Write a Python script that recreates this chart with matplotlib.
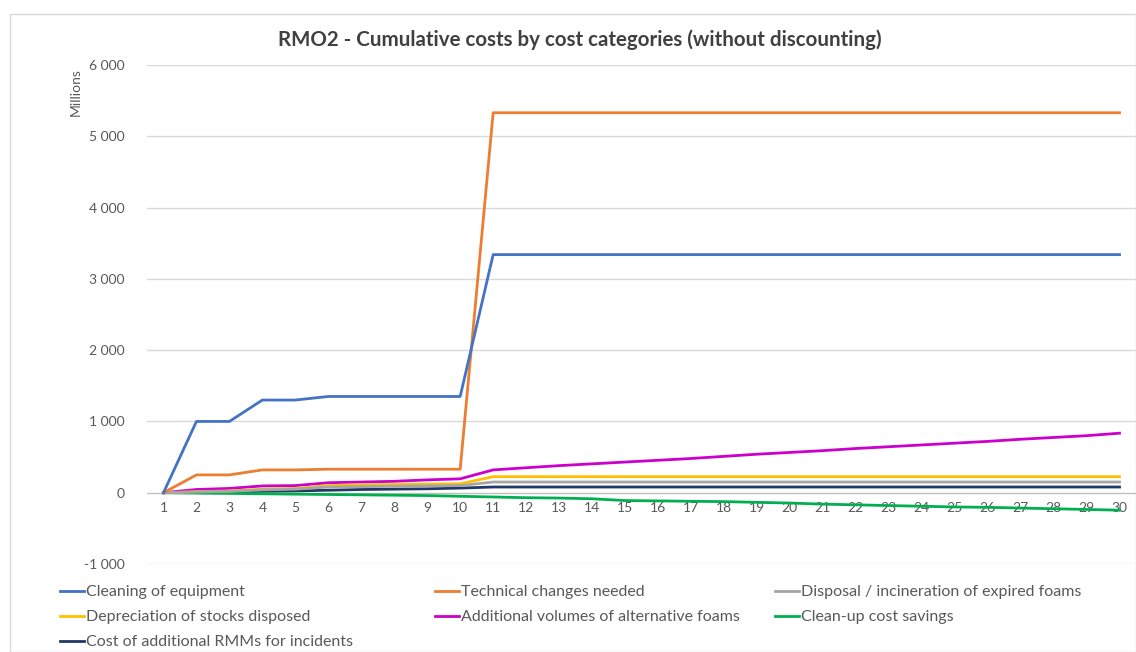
import matplotlib
matplotlib.use("Agg")
import matplotlib.pyplot as plt
from matplotlib.patches import Rectangle
from matplotlib.ticker import FuncFormatter

years = list(range(1, 31))

cleaning = [0, 1000, 1000, 1300, 1300, 1350, 1350, 1350, 1350, 1350] + [3340] * 20
technical = [0, 250, 250, 320, 320, 330, 330, 330, 330, 330] + [5330] * 20
disposal = [0, 10, 20, 40, 50, 80, 85, 90, 95, 100] + [150] * 20
depreciation = [0, 15, 25, 50, 60, 100, 110, 115, 120, 125] + [225] * 20
alt_foams = [0, 45, 60, 95, 100, 140, 150, 160, 180, 195,
             320, 350, 380, 405, 430, 455, 480, 510, 540, 565,
             590, 620, 645, 670, 695, 720, 750, 775, 800, 835]
cleanup = [0, -5, -10, -15, -20, -25, -30, -35, -40, -50,
           -60, -70, -75, -85, -110, -115, -120, -125, -135, -145,
           -160, -170, -180, -190, -200, -205, -215, -225, -235, -245]
rmm = [0, 5, 10, 20, 25, 35, 45, 50, 55, 65] + [80] * 20

names = ["Cleaning of equipment", "Technical changes needed",
         "Disposal / incineration of expired foams", "Depreciation of stocks disposed",
         "Additional volumes of alternative foams", "Clean-up cost savings",
         "Cost of additional RMMs for incidents"]
series = [cleaning, technical, disposal, depreciation, alt_foams, cleanup, rmm]
colors = ["#4472C4", "#ED7D31", "#A5A5A5", "#FFC000", "#CC00CC", "#00B050", "#203864"]

plt.rcParams['font.family'] = ['Lato', 'DejaVu Sans']

fig = plt.figure(figsize=(11.36, 6.52), dpi=100)
fig.patches.append(Rectangle((10 / 1136, 0), 1 - 10 / 1136, 1 - 14 / 652, transform=fig.transFigure,
                             fill=False, edgecolor="#D9D9D9", linewidth=1))
ax = fig.add_axes([147 / 1136, 1 - 564 / 652, 1 - 147 / 1136, (564 - 65) / 652])

# draw in reverse so the first series sits on top like Excel
lines = {}
for i in [6, 5, 4, 3, 2, 1, 0]:
    ln, = ax.plot(years, series[i], color=colors[i], linewidth=2.0, label=names[i],
                  solid_joinstyle="round", zorder=3 + (7 - i))
    lines[i] = ln

ax.set_xlim(0.5, 30.5)
ax.set_ylim(-1000, 6000)
ax.set_yticks(range(-1000, 6001, 1000))
ax.yaxis.set_major_formatter(FuncFormatter(lambda v, p: f"{int(v):,}".replace(",", " ")))
ax.set_xticks(years)
ax.grid(axis="y", color="#D9D9D9", linewidth=1)
ax.set_axisbelow(True)
for s in ["top", "right", "left"]:
    ax.spines[s].set_visible(False)
ax.spines["bottom"].set_position(("data", 0))
ax.spines["bottom"].set_color("#BFBFBF")
ax.tick_params(axis="both", length=0, labelsize=10, labelcolor="#595959")
ax.tick_params(axis="x", pad=7)
ax.tick_params(axis="y", pad=16)

fig.text(76 / 1136, 1 - 92 / 652, "Millions", rotation=90, ha="center", va="center",
         fontsize=10, color="#595959")
fig.text(580 / 1136, 1 - 40 / 652, "RMO2 - Cumulative costs by cost categories (without discounting)",
         ha="center", va="center", fontsize=14.8, fontweight="bold", color="#404040")

# legend: three columns placed like the Excel layout
cols = [([0, 3, 6], 60), ([1, 4], 435), ([2, 5], 775)]
for idx, xpix in cols:
    leg = fig.legend([lines[i] for i in idx], [names[i] for i in idx],
                     loc="upper left", bbox_to_anchor=(xpix / 1136, 1 - 585 / 652),
                     frameon=False, fontsize=11.5, handlelength=1.5, handletextpad=0.15,
                     labelspacing=0.68, borderpad=0, borderaxespad=0)
    for t in leg.get_texts():
        t.set_color("#595959")

fig.savefig("out.png", dpi=100)
